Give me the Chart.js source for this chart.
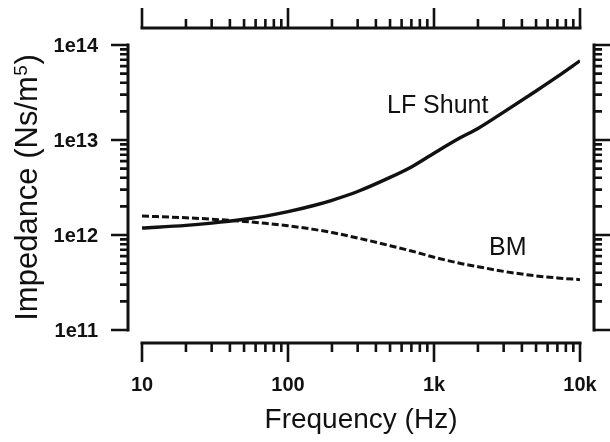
<!DOCTYPE html>
<html>
<head>
<meta charset="utf-8">
<script src="https://cdn.jsdelivr.net/npm/chart.js@4/dist/chart.umd.min.js"></script>
<style>
  html, body { margin: 0; padding: 0; background: #fff; }
  #wrap { width: 610px; height: 442px; }
</style>
</head>
<body>
<div id="wrap"><canvas id="c" width="610" height="442"></canvas></div>
<script>
// Frequencies (Hz) at which the impedances are sampled
const frequencies = [10, 20, 30, 50, 70, 100, 150, 200, 300, 500, 700, 1000, 1500, 2000, 3000, 5000, 7000, 10000];

// Impedance of the low-frequency shunt path (Ns/m^5)
const lfShunt = [1.185e12, 1.262e12, 1.335e12, 1.463e12, 1.581e12, 1.760e12, 2.044e12, 2.320e12, 2.871e12,
                 4.04e12, 5.21e12, 7.26e12, 1.047e13, 1.322e13, 1.967e13, 3.28e13, 4.64e13, 6.82e13];

// Impedance of the basilar membrane (Ns/m^5)
const bm = [1.585e12, 1.518e12, 1.467e12, 1.391e12, 1.328e12, 1.250e12, 1.146e12, 1.062e12, 9.30e11,
            7.72e11, 6.79e11, 5.84e11, 5.04e11, 4.64e11, 4.14e11, 3.71e11, 3.53e11, 3.39e11];

// Axis ticks
const xTickValues = [10, 100, 1000, 10000];
const xTickLabels = ['10', '100', '1k', '10k'];
const yTickValues = [1e11, 1e12, 1e13, 1e14];
const yTickLabels = ['1e11', '1e12', '1e13', '1e14'];
const minorSteps = [2, 3, 4, 5, 6, 7, 8, 9];

// Curve labels and axis titles
const seriesNames = ['LF Shunt', 'BM'];
const xTitle = 'Frequency (Hz)';
const yTitleMain = 'Impedance (Ns/m';
const yTitleSup = '5';
const yTitleEnd = ')';

const INK = '#111';
const FONT = '"Liberation Sans", Arial, Helvetica, sans-serif';

// Draws the four detached frame axes (with log ticks), tick labels,
// axis titles and the in-plot curve labels.
const frameAxes = {
  id: 'frameAxes',
  afterDatasetsDraw(chart) {
    const ctx = chart.ctx;
    const xs = chart.scales.x, ys = chart.scales.y;
    const x0 = xs.getPixelForValue(xTickValues[0]);
    const x1 = xs.getPixelForValue(xTickValues[xTickValues.length - 1]);
    const y0 = ys.getPixelForValue(yTickValues[0]);
    const y1 = ys.getPixelForValue(yTickValues[yTickValues.length - 1]);

    const leftX = x0 - 14, rightX = x1 + 14;
    const bottomY = y0 + 13, topY = y1 - 17;

    const xMinor = [], yMinor = [];
    for (let i = 0; i < xTickValues.length - 1; i++)
      minorSteps.forEach(m => xMinor.push(xTickValues[i] * m));
    for (let i = 0; i < yTickValues.length - 1; i++)
      minorSteps.forEach(m => yMinor.push(yTickValues[i] * m));

    ctx.save();
    ctx.strokeStyle = INK;
    ctx.fillStyle = INK;

    // axis lines
    ctx.lineWidth = 3;
    ctx.lineCap = 'square';
    ctx.beginPath();
    ctx.moveTo(leftX, y1); ctx.lineTo(leftX, y0);
    ctx.moveTo(rightX, y1); ctx.lineTo(rightX, y0);
    ctx.moveTo(x0, bottomY); ctx.lineTo(x1, bottomY);
    ctx.moveTo(x0, topY); ctx.lineTo(x1, topY);
    ctx.stroke();

    // tick marks
    ctx.lineCap = 'butt';
    ctx.lineWidth = 2.6;
    ctx.beginPath();
    xTickValues.forEach(v => {
      const p = xs.getPixelForValue(v);
      ctx.moveTo(p, bottomY); ctx.lineTo(p, bottomY + 19);
      ctx.moveTo(p, topY); ctx.lineTo(p, topY - 20);
    });
    xMinor.forEach(v => {
      const p = xs.getPixelForValue(v);
      ctx.moveTo(p, bottomY); ctx.lineTo(p, bottomY + 9);
      ctx.moveTo(p, topY); ctx.lineTo(p, topY - 9);
    });
    yTickValues.forEach(v => {
      const p = ys.getPixelForValue(v);
      ctx.moveTo(leftX, p); ctx.lineTo(leftX - 17, p);
      ctx.moveTo(rightX, p); ctx.lineTo(rightX + 16, p);
    });
    yMinor.forEach(v => {
      const p = ys.getPixelForValue(v);
      ctx.moveTo(leftX, p); ctx.lineTo(leftX - 8, p);
      ctx.moveTo(rightX, p); ctx.lineTo(rightX + 8, p);
    });
    ctx.stroke();

    // tick labels
    ctx.font = 'bold 20px ' + FONT;
    ctx.textBaseline = 'alphabetic';
    ctx.textAlign = 'center';
    xTickValues.forEach((v, i) => {
      ctx.fillText(xTickLabels[i], xs.getPixelForValue(v), bottomY + 48);
    });
    ctx.textAlign = 'right';
    yTickValues.forEach((v, i) => {
      ctx.fillText(yTickLabels[i], leftX - 30, ys.getPixelForValue(v) + 7);
    });

    // x axis title
    ctx.font = '28px ' + FONT;
    ctx.textAlign = 'center';
    ctx.fillText(xTitle, (x0 + x1) / 2, 428);

    // y axis title, rotated, with superscript exponent
    ctx.save();
    ctx.translate(37, (y0 + y1) / 2);
    ctx.rotate(-Math.PI / 2);
    ctx.textAlign = 'left';
    const mainFont = '31px ' + FONT, supFont = '19px ' + FONT;
    ctx.font = mainFont;
    const wMain = ctx.measureText(yTitleMain).width;
    const wEnd = ctx.measureText(yTitleEnd).width;
    ctx.font = supFont;
    const wSup = ctx.measureText(yTitleSup).width;
    let tx = -(wMain + wSup + wEnd + 1) / 2;
    ctx.font = mainFont;
    ctx.fillText(yTitleMain, tx, 0);
    tx += wMain + 0.5;
    ctx.font = supFont;
    ctx.fillText(yTitleSup, tx, -10);
    tx += wSup + 0.5;
    ctx.font = mainFont;
    ctx.fillText(yTitleEnd, tx, 0);
    ctx.restore();

    // curve labels
    ctx.font = '25px ' + FONT;
    ctx.textAlign = 'left';
    ctx.fillText(seriesNames[0], 387, 113);
    ctx.fillText(seriesNames[1], 489, 255);

    ctx.restore();
  }
};

const toPoints = vals => frequencies.map((f, i) => ({ x: f, y: vals[i] }));

new Chart(document.getElementById('c'), {
  type: 'line',
  data: {
    datasets: [
      {
        label: seriesNames[0],
        data: toPoints(lfShunt),
        borderColor: INK,
        borderWidth: 3.4,
        pointRadius: 0,
        cubicInterpolationMode: 'monotone',
        fill: false
      },
      {
        label: seriesNames[1],
        data: toPoints(bm),
        borderColor: INK,
        borderWidth: 3,
        borderDash: [7, 3],
        pointRadius: 0,
        cubicInterpolationMode: 'monotone',
        fill: false
      }
    ]
  },
  options: {
    responsive: false,
    animation: false,
    devicePixelRatio: 1,
    layout: { padding: { left: 142, right: 30, top: 45, bottom: 112 } },
    plugins: { legend: { display: false }, tooltip: { enabled: false } },
    scales: {
      x: { type: 'logarithmic', min: 10, max: 10000, display: false },
      y: { type: 'logarithmic', min: 1e11, max: 1e14, display: false }
    }
  },
  plugins: [frameAxes]
});
</script>
</body>
</html>
